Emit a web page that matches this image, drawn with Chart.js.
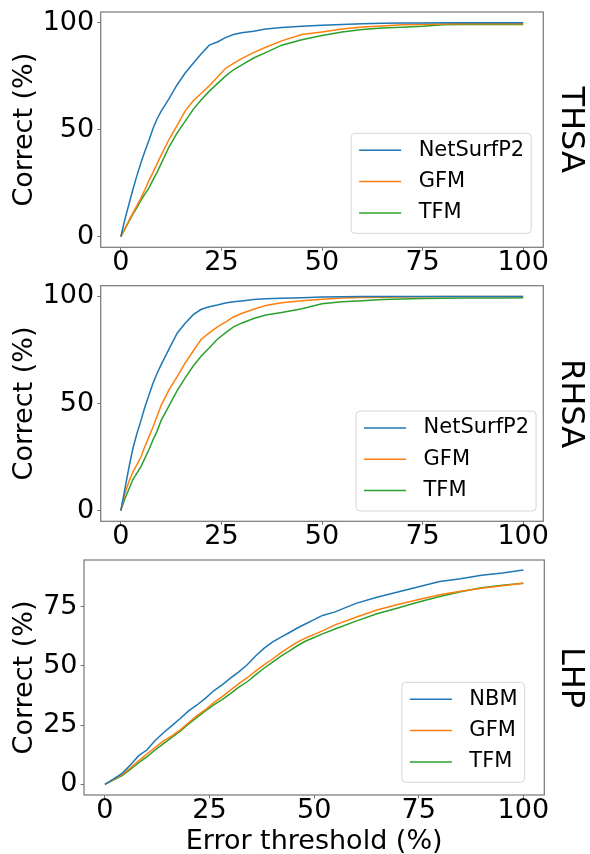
<!DOCTYPE html>
<html>
<head>
<meta charset="utf-8">
<script src="https://cdn.jsdelivr.net/npm/chart.js@4.4.0/dist/chart.umd.min.js"></script>
<style>
html, body { margin: 0; padding: 0; background: #fff; overflow: hidden; width: 590px; height: 854px; }
canvas { position: absolute; left: 0; }
</style>
</head>
<body>
<canvas id="thsa" width="590" height="320" style="top:-30px"></canvas>
<canvas id="rhsa" width="590" height="310" style="top:250px"></canvas>
<canvas id="lhp" width="590" height="340" style="top:525px"></canvas>
<script>
// error thresholds (%) used for the solvent accessibility panels
const thresholds = [0,1,2,3,4,5,6,7,8,9,10,12,14,16,18,20,22,24,26,28,30,33,36,40,45,50,55,60,65,70,75,80,85,90,95,100];

const thsaNetSurfP2 = [0,8,15,22,28.5,34.5,40,45,50.5,55,58.5,64.5,71,76.5,81,85.5,89.5,91,93,94.5,95.3,96,97,97.8,98.3,98.8,99.2,99.5,99.7,99.8,99.9,100,100,100,100,100];
const thsaGFM = [0,3.8,7.5,11,14.5,18,22,26.3,30,34,38,45.5,52,58.8,63.5,67,70.5,74.5,78.6,81,83.2,86,88.5,91.5,94.5,95.7,97,98,98.5,99,99.2,99.4,99.5,99.5,99.5,99.5];
const thsaTFM = [0,3.5,7,10.5,13.5,17,20,22.8,26.5,30,34,42,48.5,54,59.5,64,68,71.5,75,78,80.2,83.5,86,89.5,92,94,95.7,96.8,97.5,97.9,98.3,99,99.2,99.2,99.2,99.2];

const rhsaNetSurfP2 = [0,10,20,29,36,42,48.5,54,59.5,64,68,75.5,82.8,87.5,91.5,94,95.2,96,96.9,97.5,97.9,98.5,98.9,99.1,99.4,99.7,99.8,99.9,99.9,100,100,100,100,100,100,100];
const rhsaGFM = [0,8,13.5,18,21.5,25,30,34.5,39,44,49,56.5,62.5,69,74.5,80,83,85.8,88,90.4,92,94,95.8,97,98,98.7,99.3,99.5,99.6,99.7,99.8,99.9,99.9,99.9,99.9,99.9];
const rhsaTFM = [0,5.5,10,14.5,17.5,20.5,24.5,28.5,33,37,42,49,56,62,67.5,72.2,76,80,83,85.8,87.5,89.7,91.3,92.5,94.2,96.6,97.5,98,98.5,98.8,99,99.1,99.2,99.3,99.3,99.4];

// thresholds for the LHP panel
const lhpThresholds = [0,2,4,6,8,10,12,14,16,18,20,22,24,26,28,30,32,34,36,38,40,42,44,46,48,50,52,55,60,65,70,75,80,85,90,95,100];
const lhpNBM = [0,2.2,4.5,8,12,14.5,18.5,21.8,24.8,27.8,31,33.5,36.3,39.5,42,44.8,47.5,50.5,54.2,57.4,60,62,64,66,67.8,69.5,71.3,72.8,76.4,79,81.2,83.4,85.6,86.8,88.3,89.2,90.5];
const lhpGFM = [0,2,4,6.8,9.8,12.8,15.5,18.3,20.5,23,26,29,31.5,34.5,37,39.8,42.5,45,47.8,50.4,52.8,55.5,57.8,60,61.8,63.3,64.8,67.3,70.5,73.6,75.9,78,80,81.5,82.8,83.8,84.9];
const lhpTFM = [0,1.8,3.6,6.2,9,11.6,14.5,17.2,19.8,22.4,25.5,28.3,31,33.5,35.8,38.3,41,43.3,46.2,49,51.5,54,56.2,58.5,60.5,62,63.5,65.6,68.9,72,74.4,77,79.3,81.3,83,84,84.9];

const xTicks = [0,25,50,75,100];
const saYTicks = [0,50,100];
const lhpYTicks = [0,25,50,75];

const colors = ['#1f77b4', '#ff7f0e', '#2ca02c'];
const FONT = 'DejaVu Sans';

Chart.defaults.font.family = FONT;
Chart.defaults.color = '#000';

// axes frame + matplotlib style legend
const frameAndKey = {
  id: 'frameAndKey',
  afterDatasetsDraw(chart, args, opts) {
    const ctx = chart.ctx, a = chart.chartArea;
    ctx.save();
    ctx.strokeStyle = '#777';
    ctx.lineWidth = 1.2;
    ctx.strokeRect(a.left, a.top, a.right - a.left, a.bottom - a.top);

    ctx.font = '21px "' + FONT + '"';
    const sets = chart.data.datasets;
    const tw = Math.max.apply(null, sets.map(d => ctx.measureText(d.label).width));
    const w = 67.5 + tw + 7, h = 100;
    const x0 = a.right - opts.right - w, y0 = a.bottom - opts.bottom - h;
    ctx.beginPath();
    if (ctx.roundRect) ctx.roundRect(x0, y0, w, h, 4); else ctx.rect(x0, y0, w, h);
    ctx.fillStyle = 'rgba(255,255,255,0.8)';
    ctx.fill();
    ctx.strokeStyle = '#d6d6d6';
    ctx.lineWidth = 1;
    ctx.stroke();
    sets.forEach((d, i) => {
      const y = y0 + 17 + i * 31.3;
      ctx.beginPath();
      ctx.moveTo(x0 + 8, y);
      ctx.lineTo(x0 + 50, y);
      ctx.strokeStyle = d.borderColor;
      ctx.lineWidth = 1.5;
      ctx.stroke();
      ctx.fillStyle = '#000';
      ctx.textBaseline = 'middle';
      ctx.textAlign = 'left';
      ctx.fillText(d.label, x0 + 67.5, y);
    });
    ctx.restore();
  }
};

function drawPanel(id, xs, series, names, cfg) {
  const tickGrid = { drawOnChartArea: false, drawTicks: true, tickLength: 3.5, color: '#777', lineWidth: 1 };
  new Chart(document.getElementById(id), {
    type: 'line',
    data: {
      datasets: series.map((vals, i) => ({
        label: names[i],
        data: xs.map((x, j) => ({ x: x, y: vals[j] })),
        borderColor: colors[i],
        borderWidth: 1.5,
        pointRadius: 0,
        tension: 0,
        fill: false
      }))
    },
    plugins: [frameAndKey],
    options: {
      responsive: false,
      animation: false,
      events: [],
      layout: { padding: { top: cfg.padTop, left: 0, right: 0, bottom: 0 } },
      plugins: {
        legend: { display: false },
        tooltip: { enabled: false },
        frameAndKey: cfg.key
      },
      scales: {
        x: {
          type: 'linear', min: -5, max: 105,
          afterBuildTicks: s => { s.ticks = xTicks.map(v => ({ value: v })); },
          afterFit: s => { s.height = cfg.xHeight; },
          grid: tickGrid,
          border: { display: false },
          ticks: { font: { size: 27, lineHeight: 0.9 }, padding: 0, maxRotation: 0, autoSkip: false },
          title: {
            display: !!cfg.xTitle, text: cfg.xTitle || '',
            font: { size: 27 }, padding: { top: 0, bottom: 6.8 }
          }
        },
        y: {
          type: 'linear', min: cfg.yMin, max: cfg.yMax,
          afterBuildTicks: s => { s.ticks = cfg.yTicks.map(v => ({ value: v })); },
          afterFit: s => { s.width = cfg.left; },
          grid: tickGrid,
          border: { display: false },
          ticks: { font: { size: 27, lineHeight: 0.9 }, padding: 3, autoSkip: false },
          title: { display: true, text: 'Correct (%)', font: { size: 27 }, padding: { top: 9, bottom: 0 } }
        },
        side: {
          type: 'linear', position: 'right', display: true,
          afterFit: s => { s.width = 590 - cfg.right; },
          grid: { display: false },
          border: { display: false },
          ticks: { display: false },
          title: { display: true, text: cfg.side, font: { size: 32, lineHeight: 1.2 }, padding: { top: 0.8, bottom: 0 } }
        }
      }
    }
  });
}

drawPanel('thsa', thresholds, [thsaNetSurfP2, thsaGFM, thsaTFM], ['NetSurfP2', 'GFM', 'TFM'], {
  padTop: 42, xHeight: 42.7, left: 100.7, right: 543.3, yMin: -5, yMax: 105, yTicks: saYTicks,
  side: 'THSA', key: { right: 12.1, bottom: 14 }
});
drawPanel('rhsa', thresholds, [rhsaNetSurfP2, rhsaGFM, rhsaTFM], ['NetSurfP2', 'GFM', 'TFM'], {
  padTop: 35.7, xHeight: 38.7, left: 100.7, right: 543.3, yMin: -5, yMax: 105, yTicks: saYTicks,
  side: 'RHSA', key: { right: 7.2, bottom: 10.3 }
});
drawPanel('lhp', lhpThresholds, [lhpNBM, lhpGFM, lhpTFM], ['NBM', 'GFM', 'TFM'], {
  padTop: 35, xHeight: 70, left: 84, right: 544.3, yMin: -4.5, yMax: 94.7, yTicks: lhpYTicks,
  side: 'LHP', key: { right: 19.7, bottom: 12.7 }, xTitle: 'Error threshold (%)'
});
</script>
</body>
</html>
